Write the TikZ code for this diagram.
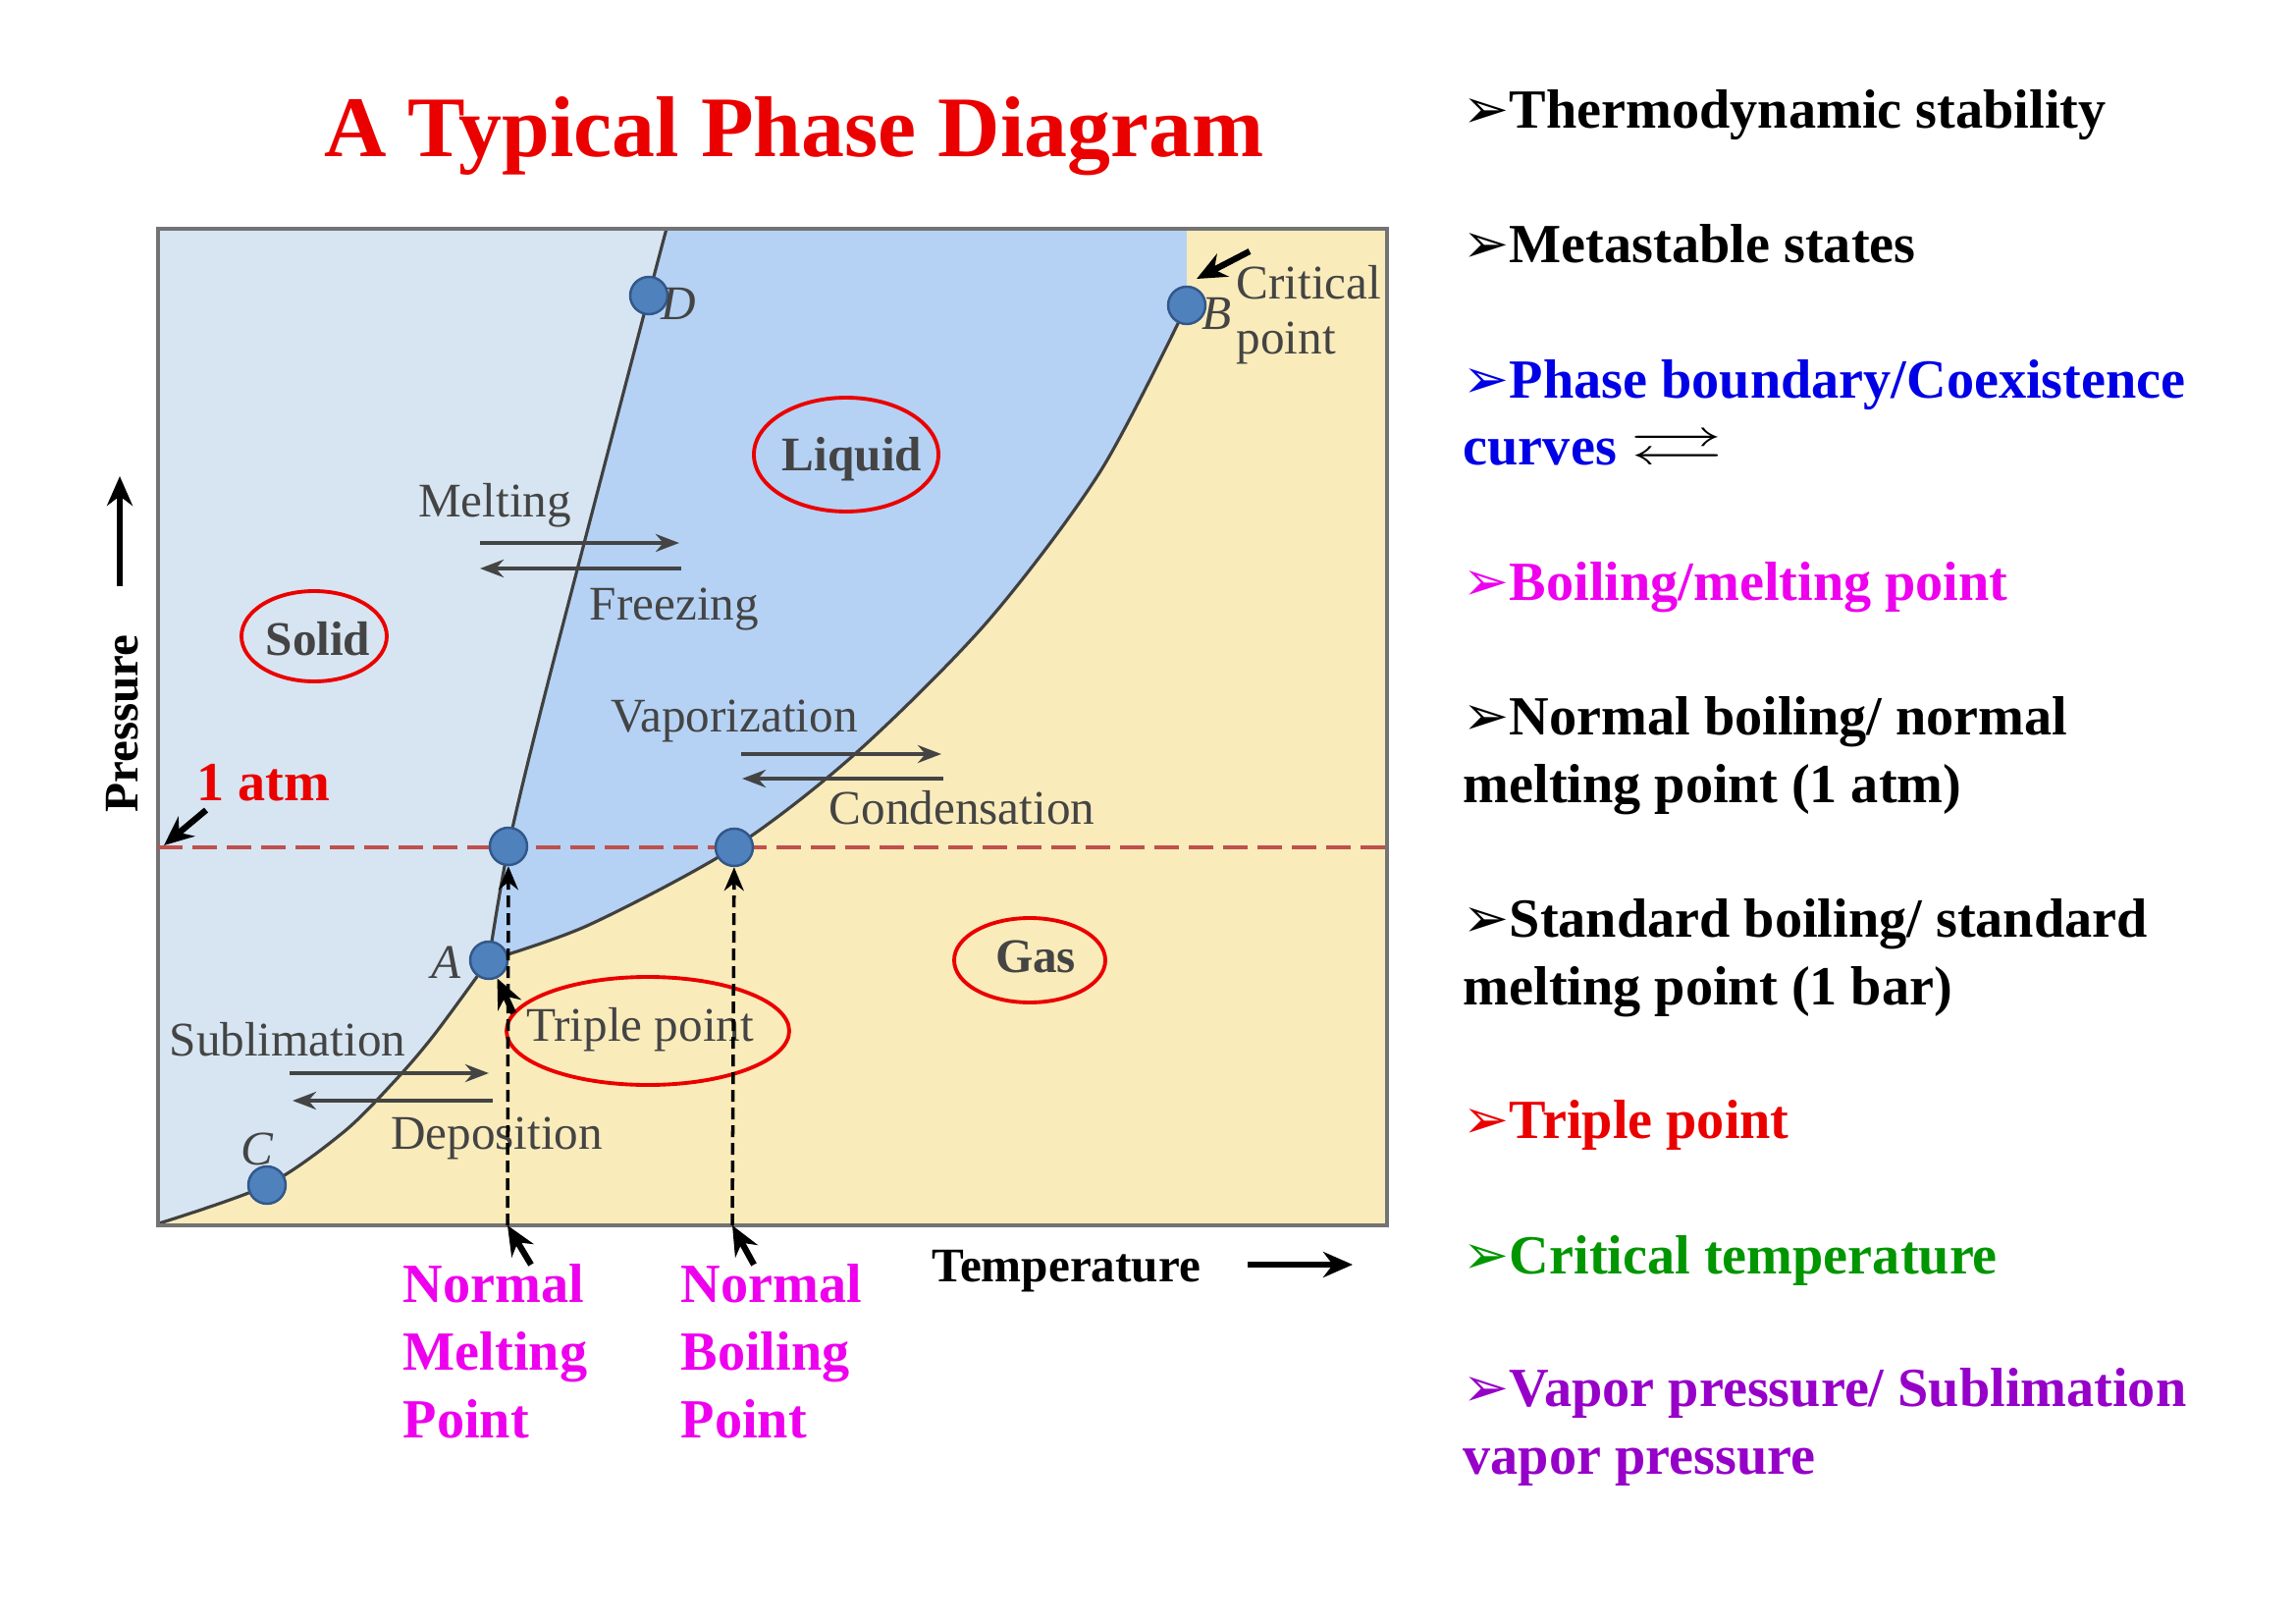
\documentclass[tikz,border=0pt]{standalone}
\usepackage{fontspec}
\usepackage{amssymb}
\usepackage{tikz}
\usetikzlibrary{arrows.meta, positioning, calc}
\setmainfont{Liberation Serif}
\newfontfamily\dingfont{DejaVu Sans}
\definecolor{solidfill}{RGB}{214,229,241}
\definecolor{liquidfill}{RGB}{181,210,244}
\definecolor{gasfill}{RGB}{250,235,187}
\definecolor{dotblue}{RGB}{79,129,189}
\definecolor{dotrim}{RGB}{50,88,138}
\definecolor{inkgray}{RGB}{68,68,68}
\definecolor{atmline}{RGB}{192,80,77}
\definecolor{hotred}{RGB}{235,0,0}
\definecolor{deepblue}{RGB}{0,0,230}
\definecolor{pinkish}{RGB}{238,0,238}
\definecolor{leafgreen}{RGB}{0,150,0}
\definecolor{vpurple}{RGB}{150,0,200}
\newcommand{\itemtip}{{\dingfont ➢}}

\begin{document}
\begin{tikzpicture}[
    x=0.1mm, y=-0.1mm,
    ptdot/.style={circle, fill=dotblue, draw=dotrim, line width=0.7pt, minimum size=3.8mm, inner sep=0pt},
    ptname/.style={font=\fontsize{14}{14}\selectfont\itshape, text=inkgray, inner sep=0pt},
    proc/.style={font=\fontsize{14}{14}\selectfont, text=inkgray, inner sep=0pt, anchor=base},
    phase/.style={font=\fontsize{14}{14}\selectfont\bfseries, text=inkgray, inner sep=0pt, anchor=base},
    ring/.style={draw=hotred, line width=1.1pt},
    procarrow/.style={draw=inkgray, line width=1.3pt, -{Stealth[length=2.4mm, width=1.8mm]}},
    pointer/.style={draw=black, line width=1.8pt, -{Stealth[length=3mm, width=2.6mm]}},
    guide/.style={draw=black, line width=1pt, dash pattern=on 1.2mm off 0.6mm, -{Stealth[length=2.4mm, width=2mm]}},
    atmdash/.style={draw=atmline, line width=1.1pt, dash pattern=on 2.5mm off 1mm},
    boundary/.style={draw=black!75, line width=0.9pt},
    listitem/.style={font=\fontsize{16}{19.6}\selectfont\bfseries, anchor=base west, align=left, inner sep=0pt},
    axislabel/.style={font=\fontsize{14}{14}\selectfont\bfseries, inner sep=0pt},
    pointlabel/.style={font=\fontsize{16}{19.6}\selectfont\bfseries, text=pinkish, anchor=base west, align=left, inner sep=0pt}
]
    \useasboundingbox (0,0) rectangle (2339,1653);
    \fill[white] (0,0) rectangle (2339,1653);

    \node[font=\fontsize{25}{25}\selectfont\bfseries, text=hotred, anchor=base, inner sep=0pt] (title) at (809,160) {A Typical Phase Diagram};

    % phase regions
    \fill[solidfill] (161,233) rectangle (1413,1248);
    \fill[liquidfill] plot[smooth] coordinates {(498,978) (518,862) (557,700) (661,301) (679,233)}
        -- (1413,233) -- (1413,1248) -- (498,1248) -- cycle;
    \fill[gasfill] plot[smooth] coordinates {(162,1246) (272,1207) (350,1153) (403,1100) (443,1053) (498,978)}
        -- plot[smooth] coordinates {(498,978) (600,942) (748,863) (872,767) (1006,633) (1121,480) (1209,311)}
        -- (1209,233) -- (1413,233) -- (1413,1248) -- cycle;

    \draw[boundary] plot[smooth] coordinates {(162,1246) (272,1207) (350,1153) (403,1100) (443,1053) (498,978)};
    \draw[boundary] plot[smooth] coordinates {(498,978) (518,862) (557,700) (661,301) (679,233)};
    \draw[boundary] plot[smooth] coordinates {(498,978) (600,942) (748,863) (872,767) (1006,633) (1121,480) (1209,311)};
    \draw[draw=black!55, line width=1.2pt] (161,233) rectangle (1413,1248);

    % 1 atm line
    \coordinate (atmL) at (161,863);
    \coordinate (atmR) at (1413,863);
    \draw[atmdash] (atmL) -- (atmR);

    % process labels and arrows
    \node[proc] (melt) at (504,526) {Melting};
    \node[proc] (freeze) at (687,631) {Freezing};
    \node[proc] (vap) at (748,745) {Vaporization};
    \node[proc] (cond) at (980,839) {Condensation};
    \node[proc] (subl) at (293,1075) {Sublimation};
    \node[proc] (depo) at (506,1170) {Deposition};

    \coordinate (meltA) at (489,553);  \coordinate (meltB) at (692,553);
    \coordinate (freezeA) at (694,579); \coordinate (freezeB) at (489,579);
    \coordinate (vapA) at (755,768);   \coordinate (vapB) at (959,768);
    \coordinate (condA) at (961,793);  \coordinate (condB) at (756,793);
    \coordinate (sublA) at (295,1093); \coordinate (sublB) at (498,1093);
    \coordinate (depoA) at (502,1121); \coordinate (depoB) at (298,1121);
    \draw[procarrow] (meltA) -- (meltB);
    \draw[procarrow] (freezeA) -- (freezeB);
    \draw[procarrow] (vapA) -- (vapB);
    \draw[procarrow] (condA) -- (condB);
    \draw[procarrow] (sublA) -- (sublB);
    \draw[procarrow] (depoA) -- (depoB);

    % phases
    \node[phase] (solid) at (324,667) {Solid};
    \node[phase] (liquid) at (868,480) {Liquid};
    \node[phase] (gas) at (1055,990) {Gas};
    \node[proc] (tp) at (652,1060) {Triple point};
    \draw[ring] (320,648) ellipse [x radius=7.4mm, y radius=4.6mm];
    \draw[ring] (862,463) ellipse [x radius=9.4mm, y radius=5.8mm];
    \draw[ring] (1049,978) ellipse [x radius=7.7mm, y radius=4.3mm];
    \draw[ring] (660,1050) ellipse [x radius=14.4mm, y radius=5.5mm];

    % guides to the temperature axis
    \coordinate (mpfoot) at (517,1248);
    \coordinate (bpfoot) at (746,1248);

    % points
    \node[ptdot] (D) at (661,301) {};
    \node[ptdot] (B) at (1209,311) {};
    \node[ptdot] (mp) at (518,862) {};
    \node[ptdot] (bp) at (748,863) {};
    \node[ptdot] (A) at (498,978) {};
    \node[ptdot] (C) at (272,1207) {};
    \node[ptname] (Dname) at (691,309) {D};
    \node[ptname] (Bname) at (1240,319) {B};
    \node[ptname] (Aname) at (455,980) {A};
    \node[ptname] (Cname) at (262,1170) {C};

    \draw[guide] (mpfoot) -- (mp);
    \draw[guide] (bpfoot) -- (bp);

    \node[proc, anchor=base west, align=left, font=\fontsize{14}{16.2}\selectfont] (crit) at (1259,361) {Critical\\point};
    \coordinate (crittail) at (1273,256);
    \coordinate (crithead) at (1219,284);
    \draw[pointer] (crittail) -- (crithead);

    \coordinate (tptail) at (523,1032);
    \draw[pointer] (tptail) -- (A);

    \node[font=\fontsize{16}{16}\selectfont\bfseries, text=hotred, anchor=base west, inner sep=0pt] (atm) at (200,815) {1 atm};
    \coordinate (atmtail) at (210,825);
    \coordinate (atmhead) at (167,861);
    \draw[pointer] (atmtail) -- (atmhead);

    % axes
    \node[axislabel, rotate=90, anchor=base] (press) at (140,737) {Pressure};
    \coordinate (pTail) at (122,597);
    \coordinate (pHead) at (122,485);
    \draw[pointer] (pTail) -- (pHead);
    \node[axislabel, anchor=base west] (temp) at (949,1305) {Temperature};
    \coordinate (tTail) at (1271,1288);
    \coordinate (tHead) at (1378,1288);
    \draw[pointer] (tTail) -- (tHead);

    \node[pointlabel] (nmp) at (410,1464) {Normal\\Melting\\Point};
    \node[pointlabel] (nbp) at (693,1464) {Normal\\Boiling\\Point};
    \coordinate (nmptail) at (541,1288);
    \coordinate (nbptail) at (768,1288);
    \draw[pointer] (nmptail) -- (mpfoot);
    \draw[pointer] (nbptail) -- (bpfoot);

    % list on the right
    \node[listitem] (i1) at (1490,131) {\itemtip Thermodynamic stability};
    \node[listitem] (i2) at (1490,268) {\itemtip Metastable states};
    \node[listitem, text=deepblue] (i3) at (1490,474) {\itemtip Phase boundary/Coexistence\\curves {\color{black}\scalebox{1.7}[1]{$\rightleftarrows$}}};
    \node[listitem, text=pinkish] (i4) at (1490,611) {\itemtip Boiling/melting point};
    \node[listitem] (i5) at (1490,817) {\itemtip Normal boiling/ normal\\melting point (1 atm)};
    \node[listitem] (i6) at (1490,1023) {\itemtip Standard boiling/ standard\\melting point (1 bar)};
    \node[listitem, text=hotred] (i7) at (1490,1159) {\itemtip Triple point};
    \node[listitem, text=leafgreen] (i8) at (1490,1297) {\itemtip Critical temperature};
    \node[listitem, text=vpurple] (i9) at (1490,1501) {\itemtip Vapor pressure/ Sublimation\\vapor pressure};
\end{tikzpicture}
\end{document}
